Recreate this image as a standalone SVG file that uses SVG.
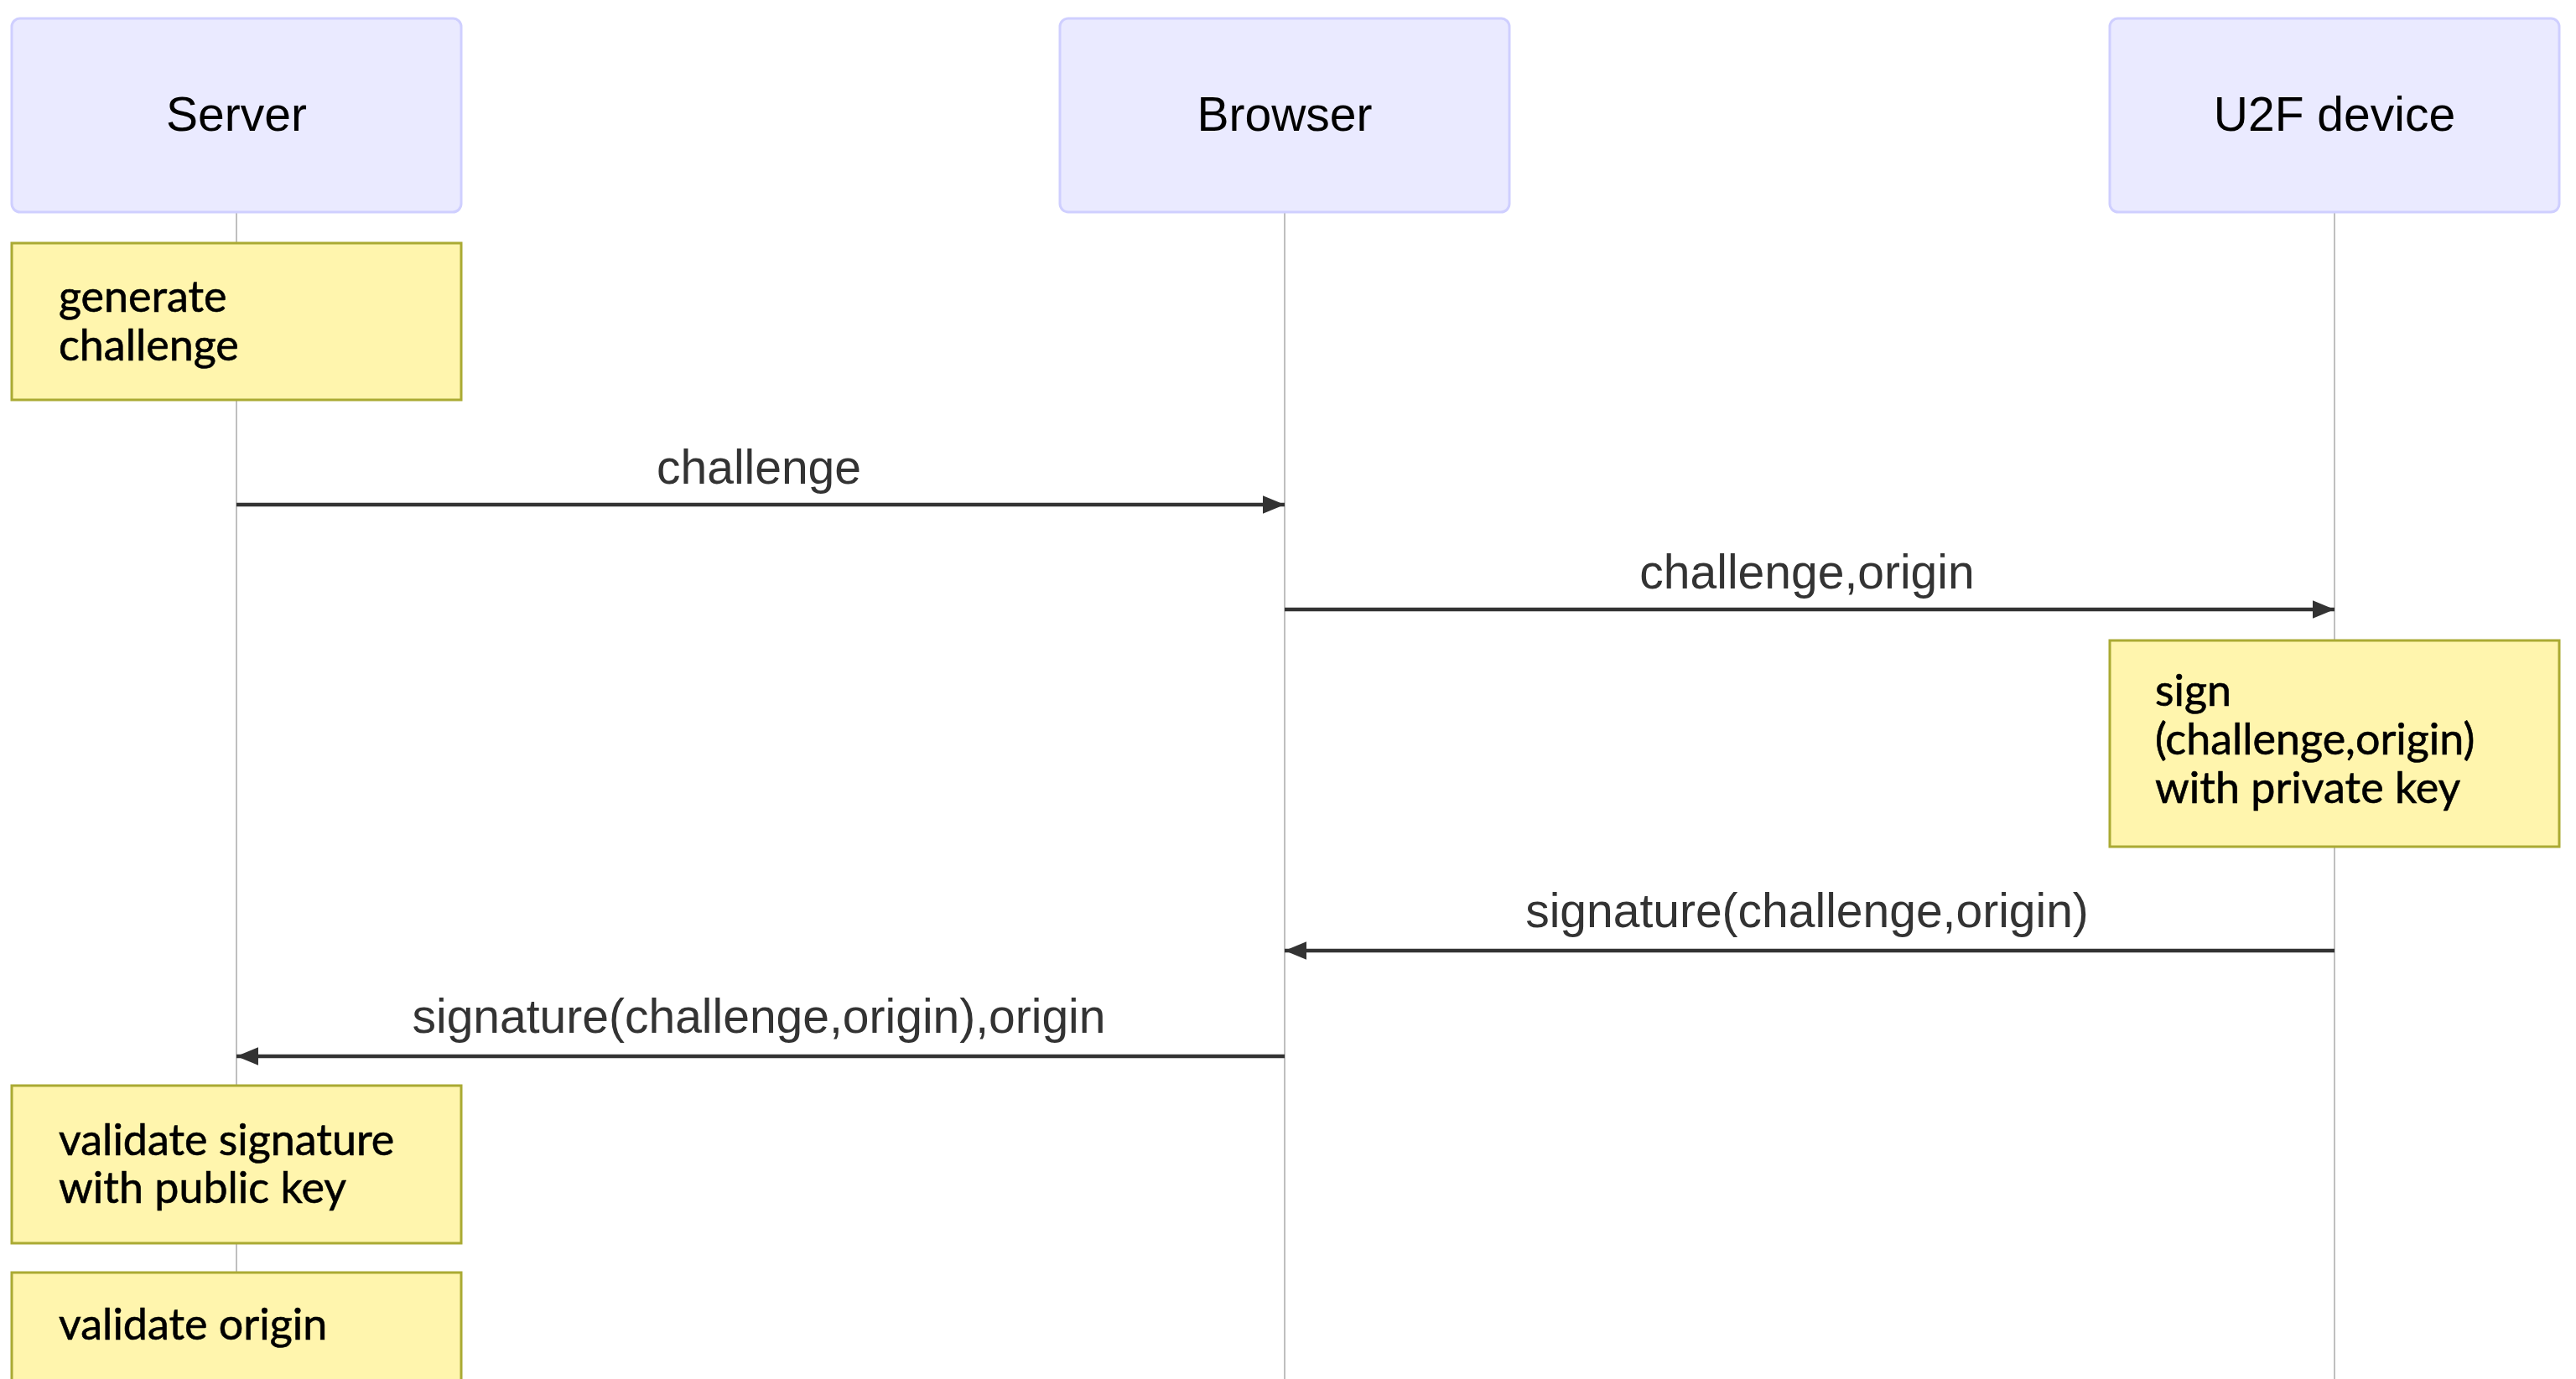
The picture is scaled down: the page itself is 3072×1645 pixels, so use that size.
<svg xmlns="http://www.w3.org/2000/svg" width="3072" height="1645" viewBox="0 0 3072 1645">
<style>
.actor{fill:#EAEAFF;stroke:#CFCFFF;stroke-width:3}
.actor-text{font-family:"Liberation Sans",Arial,sans-serif;font-size:57px;fill:#000;text-anchor:middle}
.life{stroke:#AAAAAA;stroke-width:1.5;fill:none}
.note{fill:#FFF5AD;stroke:#AAAA33;stroke-width:3}
.note-text{font-family:"Lato","Noto Sans",sans-serif;font-size:52px;fill:#000;stroke:#000;stroke-width:0.6}
.msg{stroke:#333;stroke-width:4.5;fill:none}
.msg-text{font-family:"Liberation Sans",Arial,sans-serif;font-size:57px;fill:#333;text-anchor:middle}
</style>
<defs>
<marker id="arrow" viewBox="0 0 12 10" refX="12" refY="5" markerUnits="userSpaceOnUse" markerWidth="26" markerHeight="22" orient="auto">
<path d="M0,0 L12,5 L0,10 z" fill="#333"/>
</marker>
</defs>
<rect width="3072" height="1645" fill="#fff"/>
<g id="lifelines">
<line class="life" x1="282" y1="253" x2="282" y2="1645"/>
<line class="life" x1="1532" y1="253" x2="1532" y2="1645"/>
<line class="life" x1="2784" y1="253" x2="2784" y2="1645"/>
</g>
<g id="actor-server">
<rect class="actor" x="14" y="22" width="536" height="231" rx="10"/>
<text class="actor-text" x="282" y="156">Server</text>
</g>
<g id="actor-browser">
<rect class="actor" x="1264" y="22" width="536" height="231" rx="10"/>
<text class="actor-text" x="1532" y="156">Browser</text>
</g>
<g id="actor-u2f">
<rect class="actor" x="2516" y="22" width="536" height="231" rx="10"/>
<text class="actor-text" x="2784" y="156">U2F device</text>
</g>
<g id="note-generate">
<rect class="note" x="14" y="290" width="536" height="187"/>
<text class="note-text" x="70" y="372">generate</text>
<text class="note-text" x="70" y="430">challenge</text>
</g>
<g id="note-sign">
<rect class="note" x="2516" y="764" width="536" height="246"/>
<text class="note-text" x="2570" y="842">sign</text>
<text class="note-text" x="2570" y="900">(challenge,origin)</text>
<text class="note-text" x="2570" y="958">with private key</text>
</g>
<g id="note-validate-signature">
<rect class="note" x="14" y="1295" width="536" height="188"/>
<text class="note-text" x="70" y="1378">validate signature</text>
<text class="note-text" x="70" y="1435">with public key</text>
</g>
<g id="note-validate-origin">
<rect class="note" x="14" y="1518" width="536" height="160"/>
<text class="note-text" x="70" y="1598">validate origin</text>
</g>
<g id="connectors">
<line class="msg" x1="282" y1="602" x2="1532" y2="602" marker-end="url(#arrow)"/>
<text class="msg-text" x="905" y="577">challenge</text>
<line class="msg" x1="1532" y1="727" x2="2784" y2="727" marker-end="url(#arrow)"/>
<text class="msg-text" x="2155" y="702">challenge,origin</text>
<line class="msg" x1="2784" y1="1134" x2="1532" y2="1134" marker-end="url(#arrow)"/>
<text class="msg-text" x="2155" y="1106">signature(challenge,origin)</text>
<line class="msg" x1="1532" y1="1260" x2="282" y2="1260" marker-end="url(#arrow)"/>
<text class="msg-text" x="905" y="1232">signature(challenge,origin),origin</text>
</g>
</svg>
